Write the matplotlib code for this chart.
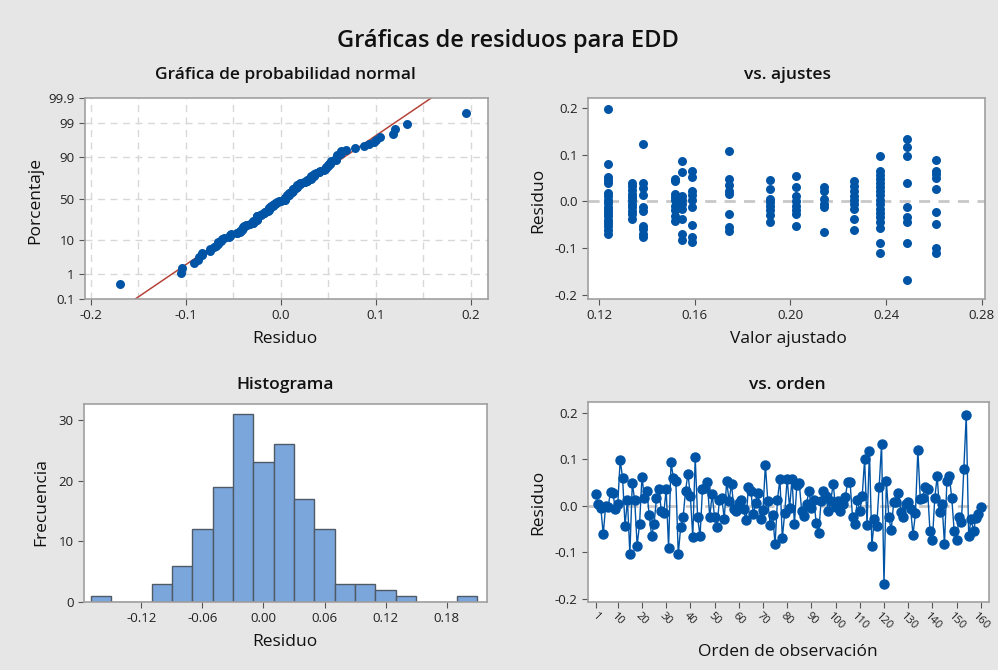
import numpy as np
import matplotlib
matplotlib.use("Agg")
import matplotlib.pyplot as plt
from statistics import NormalDist

plt.rcParams['font.family'] = ['Open Sans', 'DejaVu Sans']

# residuals in observation order (read from the "vs. orden" panel)
resid = [
    0.025, 0.003, -0.005, -0.062, 0.000, -0.004, 0.030, 0.028, -0.008, 0.004,
    0.098, 0.059, -0.043, 0.012, -0.104, 0.048, 0.012, -0.086, -0.040, 0.062,
    0.017, 0.032, -0.021, -0.066, -0.039, 0.016, 0.036, -0.011, -0.017, 0.035,
    -0.092, 0.093, 0.059, 0.052, -0.105, -0.046, -0.025, 0.032, 0.069, 0.020,
    -0.068, 0.104, -0.025, -0.066, 0.035, 0.037, 0.051, -0.025, 0.024, -0.025,
    -0.046, 0.012, 0.017, -0.029, 0.053, 0.010, 0.047, -0.008, -0.012, 0.005,
    0.013, -0.008, -0.032, 0.041, 0.032, -0.018, 0.005, 0.028, -0.029, -0.010,
    0.088, 0.009, -0.041, -0.020, -0.083, 0.013, 0.058, -0.070, -0.015, 0.058,
    -0.006, 0.058, -0.040, 0.045, 0.048, -0.012, -0.022, 0.004, 0.032, -0.005,
    0.013, -0.037, -0.060, 0.009, 0.032, 0.020, -0.012, 0.009, 0.047, -0.003,
    0.009, -0.012, 0.004, 0.018, 0.050, 0.050, -0.025, -0.040, 0.013, -0.012,
    0.020, 0.100, -0.041, 0.118, -0.087, -0.029, -0.043, 0.040, 0.133, -0.169,
    0.052, -0.025, -0.053, 0.007, 0.007, 0.028, -0.014, -0.025, 0.004, 0.007,
    -0.007, -0.063, -0.017, 0.120, 0.015, 0.017, 0.040, 0.035, -0.054, -0.075,
    0.017, 0.063, -0.014, 0.004, -0.083, 0.053, 0.063, 0.017, -0.054, -0.075,
    -0.025, -0.036, 0.078, 0.195, -0.066, -0.029, -0.055, -0.027, -0.018, -0.002,
]

# fitted value levels and residuals at each level ("vs. ajustes" panel)
fit_levels = [0.1238, 0.1339, 0.1384, 0.1519, 0.1547, 0.1589, 0.1744,
              0.1916, 0.2025, 0.2142, 0.2266, 0.2373, 0.2485, 0.2608]
fit_resid = [
    [0.197, 0.079, 0.053, 0.046, 0.039, 0.018, 0.011, 0.004, -0.004, -0.011,
     -0.018, -0.025, -0.032, -0.039, -0.046, -0.053, -0.062, -0.070],
    [0.039, 0.032, 0.025, 0.016, 0.009, 0.002, -0.005, -0.012, -0.021, -0.028, -0.037],
    [0.123, 0.039, 0.029, 0.013, -0.011, -0.021, -0.053, -0.060, -0.069, -0.077],
    [0.048, 0.043, 0.016, 0.009, 0.002, -0.009, -0.019, -0.032, -0.043],
    [0.087, 0.062, 0.011, 0.004, -0.005, -0.016, -0.037, -0.069, -0.083],
    [0.065, 0.053, 0.023, 0.013, 0.002, -0.012, -0.051, -0.076, -0.087],
    [0.107, 0.048, 0.034, 0.023, 0.015, -0.028, -0.055, -0.063],
    [0.046, 0.027, 0.006, -0.001, -0.009, -0.018, -0.030, -0.044],
    [0.055, 0.030, 0.011, 0.001, -0.009, -0.019, -0.028, -0.053],
    [0.030, 0.023, 0.006, -0.005, -0.013, -0.065],
    [0.043, 0.032, 0.022, 0.011, 0.002, -0.006, -0.016, -0.037, -0.062],
    [0.098, 0.066, 0.057, 0.048, 0.039, 0.030, 0.022, 0.013, 0.004, -0.006,
     -0.016, -0.025, -0.033, -0.044, -0.058, -0.089, -0.110],
    [0.133, 0.117, 0.098, 0.039, -0.013, -0.033, -0.044, -0.089, -0.168],
    [0.089, 0.066, 0.059, 0.050, 0.027, -0.023, -0.049, -0.099, -0.110],
]

# histogram (bin centres and counts)
hist_centers = [-0.16, -0.14, -0.12, -0.10, -0.08, -0.06, -0.04, -0.02, 0.00, 0.02,
                0.04, 0.06, 0.08, 0.10, 0.12, 0.14, 0.16, 0.18, 0.20]
hist_counts = [1, 0, 0, 3, 6, 12, 19, 31, 23, 26, 17, 12, 3, 3, 2, 1, 0, 0, 1]

pct_ticks = [0.1, 1, 10, 50, 90, 99, 99.9]
order_ticks = [1, 10, 20, 30, 40, 50, 60, 70, 80, 90, 100, 110, 120, 130, 140, 150, 160]

BLUE = '#0054A6'
BG = '#E6E6E6'
SPINE = '#A0A0A0'
W, H = 998, 670

fig = plt.figure(figsize=(W / 100, H / 100), dpi=100, facecolor=BG)


def px_axes(l, t, r, b):
    ax = fig.add_axes([l / W, 1 - b / H, (r - l) / W, (b - t) / H])
    ax.set_facecolor('white')
    for s in ax.spines.values():
        s.set_color(SPINE)
        s.set_linewidth(1.2)
    ax.tick_params(colors='#555555', labelcolor='#222222', labelsize=9.5,
                   length=4, width=0.8)
    return ax


nd = NormalDist()
z = lambda p: nd.inv_cdf(p)

# normal probability plot
ax1 = px_axes(85, 98, 488, 299)
r = np.sort(np.array(resid))
n = len(r)
pos = [(i + 1 - 0.3) / (n + 0.4) for i in range(n)]
zs = [z(p) for p in pos]
mu, sd = r.mean(), r.std(ddof=1)
ylo, yhi = z(0.001), z(0.999)
lx = np.array([mu + sd * ylo - 0.05, mu + sd * yhi + 0.05])
ax1.plot(lx, (lx - mu) / sd, color='#B5443A', lw=1.1, zorder=2)
ax1.scatter(r, zs, s=42, color=BLUE, zorder=3, linewidths=0)
ax1.set_xlim(-0.2063, 0.2182)
ax1.set_ylim(ylo, yhi)
ax1.set_yticks([z(p / 100) for p in pct_ticks])
ax1.set_yticklabels([f'{p:g}' for p in pct_ticks])
ax1.set_xticks([-0.2, -0.1, 0.0, 0.1, 0.2])
ax1.set_xticklabels(['-0.2', '-0.1', '0.0', '0.1', '0.2'])
for gx in np.arange(-0.2, 0.21, 0.05):
    ax1.axvline(gx, color='#D8D8D8', ls=(0, (5, 4)), lw=1, zorder=1)
for p in pct_ticks[1:-1]:
    ax1.axhline(z(p / 100), color='#D8D8D8', ls=(0, (5, 4)), lw=1, zorder=1)

# versus fits
ax2 = px_axes(588, 98, 985, 299)
for fv, col in zip(fit_levels, fit_resid):
    ax2.scatter([fv] * len(col), col, s=42, color=BLUE, zorder=3, linewidths=0)
ax2.axhline(0, color='#C8C8C8', ls=(0, (4, 3)), lw=2, zorder=1)
ax2.set_xlim(0.1154, 0.2813)
ax2.set_ylim(-0.209, 0.2213)
ax2.set_xticks([0.12, 0.16, 0.20, 0.24, 0.28])
ax2.set_xticklabels(['0.12', '0.16', '0.20', '0.24', '0.28'])
ax2.set_yticks([-0.2, -0.1, 0.0, 0.1, 0.2])
ax2.set_yticklabels(['-0.2', '-0.1', '0.0', '0.1', '0.2'])

# histogram
ax3 = px_axes(84, 404, 487, 602)
ax3.bar(hist_centers, hist_counts, width=0.02, color='#7BA6DC',
        edgecolor='#505A66', linewidth=1.0, zorder=2)
ax3.set_xlim(-0.1764, 0.2197)
ax3.set_ylim(0, 32.6)
ax3.set_xticks([-0.12, -0.06, 0.0, 0.06, 0.12, 0.18])
ax3.set_xticklabels(['-0.12', '-0.06', '0.00', '0.06', '0.12', '0.18'])
ax3.set_yticks([0, 10, 20, 30])

# versus order
ax4 = px_axes(588, 402, 989, 602)
obs = np.arange(1, n + 1)
ax4.axhline(0, color='#C8C8C8', ls=(0, (4, 3)), lw=2, zorder=1)
ax4.plot(obs, resid, color=BLUE, lw=1.0, marker='o', ms=6.5, mec=BLUE,
         mfc=BLUE, zorder=3)
ax4.set_xlim(-2.3, 163.4)
ax4.set_ylim(-0.2075, 0.223)
ax4.set_xticks(order_ticks)
ax4.set_xticklabels([str(t) for t in order_ticks], rotation=-45, ha='center',
                    va='top', fontsize=8)
ax4.tick_params(axis='x', pad=2)
ax4.set_yticks([-0.2, -0.1, 0.0, 0.1, 0.2])
ax4.set_yticklabels(['-0.2', '-0.1', '0.0', '0.1', '0.2'])

# titles and axis labels
tt = lambda x, y, s, **kw: fig.text(x / W, 1 - y / H, s, ha='center', va='center',
                                     color='#111111', **kw)
tt(508, 41, 'Gráficas de residuos para EDD', fontsize=17, fontweight='semibold')
tt(285, 75, 'Gráfica de probabilidad normal', fontsize=12.5, fontweight='semibold')
tt(787, 75, 'vs. ajustes', fontsize=12.5, fontweight='semibold')
tt(285, 385, 'Histograma', fontsize=12.5, fontweight='semibold')
tt(787, 385, 'vs. orden', fontsize=12.5, fontweight='semibold')
tt(285, 339, 'Residuo', fontsize=12.5)
tt(788, 339, 'Valor ajustado', fontsize=12.5)
tt(285, 642, 'Residuo', fontsize=12.5)
tt(788, 652, 'Orden de observación', fontsize=12.5)
tt(35, 200, 'Porcentaje', fontsize=12.5, rotation=90)
tt(538, 200, 'Residuo', fontsize=12.5, rotation=90)
tt(41, 502, 'Frecuencia', fontsize=12.5, rotation=90)
tt(538, 502, 'Residuo', fontsize=12.5, rotation=90)

fig.savefig('out.png', dpi=100, facecolor=BG)
